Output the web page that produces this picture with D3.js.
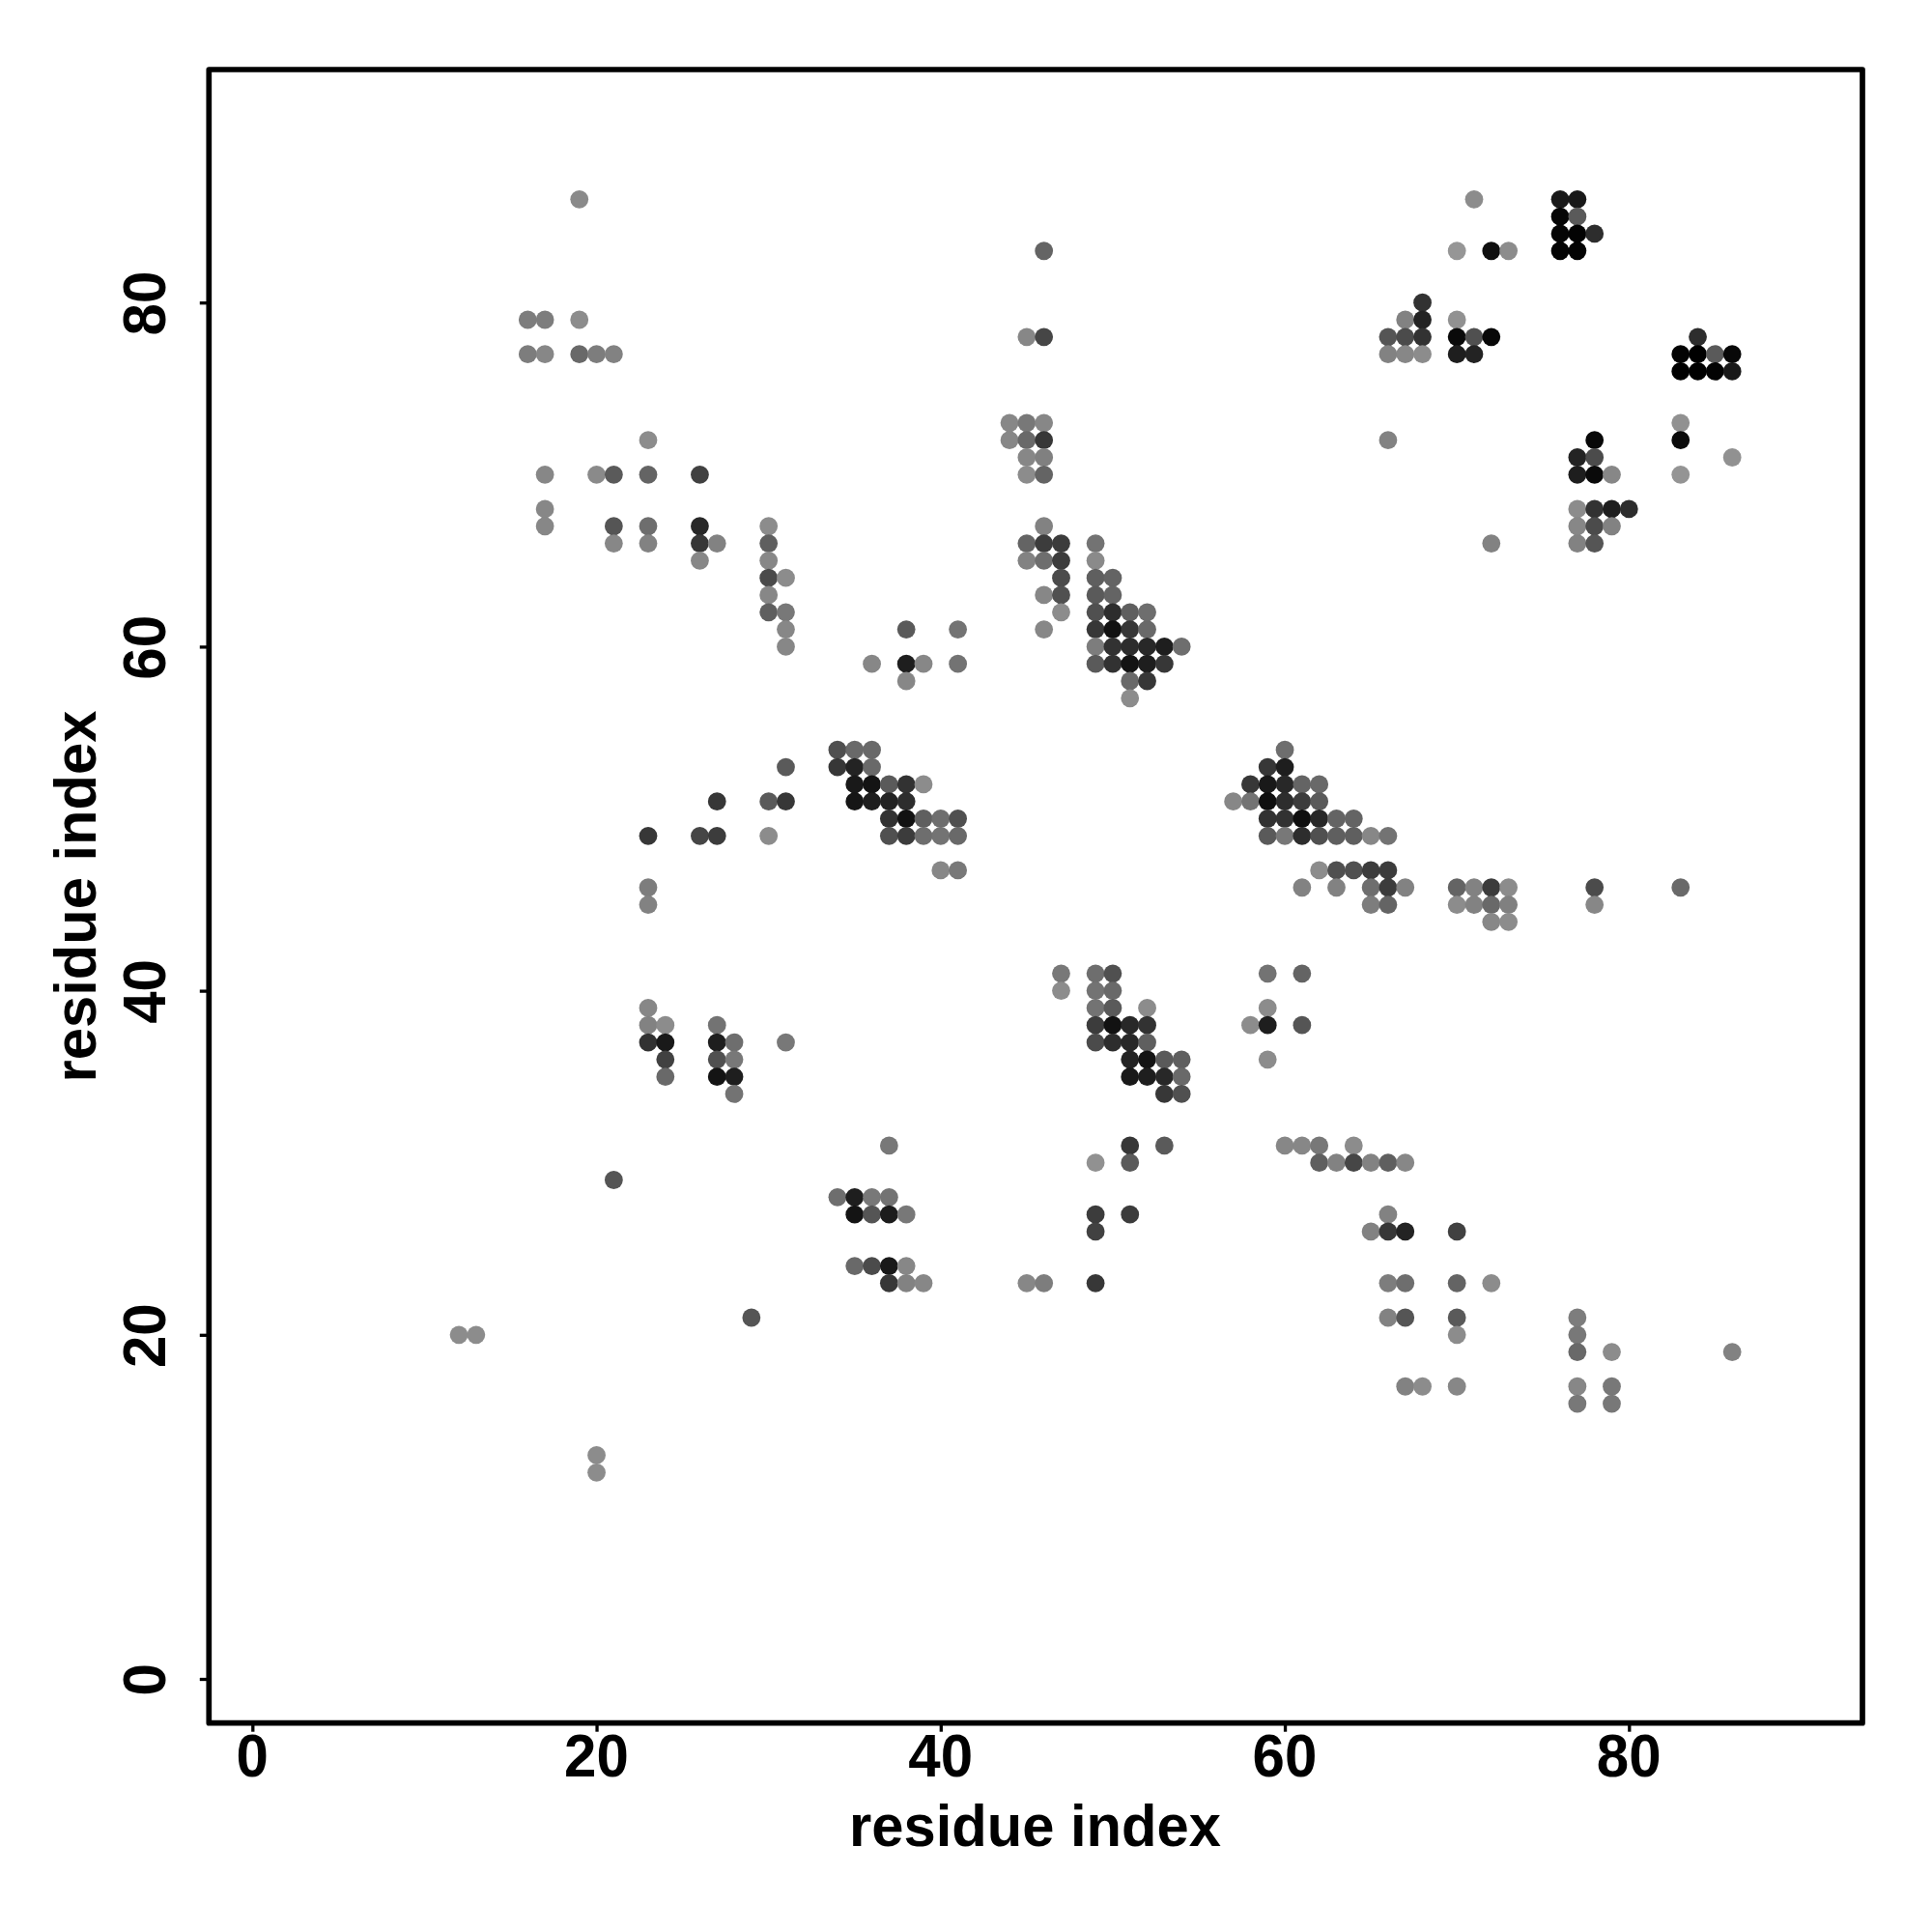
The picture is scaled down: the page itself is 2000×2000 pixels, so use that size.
<!DOCTYPE html>
<html>
<head>
<meta charset="utf-8">
<style>html,body{margin:0;padding:0;background:#fff}svg{display:block}</style>
<script src="https://cdn.jsdelivr.net/npm/d3@7"></script>
</head>
<body>
<script>
const rowJ = [86,85,84,83,80,79,78,77,76,73,72,71,70,68,67,66,65,64,63,62,61,60,59,58,57,54,53,52,51,50,49,47,46,45,44,41,40,39,38,37,36,35,34,31,30,29,28,27,26,24,23,21,20,19,17,16,13,12];
const residueI = [
[19,71,76,77],[76,77],[76,77,78],[46,70,72,73,76,77],[68],
[16,17,19,67,68,70],[45,46,66,67,68,70,71,72,84],
[16,17,19,20,21,66,67,68,70,71,83,84,85,86],[83,84,85,86],[44,45,46,83],
[23,44,45,46,66,78,83],[45,46,77,78,86],[17,20,21,23,26,45,46,77,78,79,83],
[17,77,78,79,80],[17,21,23,26,30,46,77,78,79],[21,23,26,27,30,45,46,47,49,72,77,78],
[26,30,45,46,47,49],[30,31,47,49,50],[30,46,47,49,50],[30,31,47,49,50,51,52],
[31,38,41,46,49,50,51,52],[31,49,50,51,52,53,54],[36,38,39,41,49,50,51,52,53],
[38,51,52],[51],[34,35,36,60],[31,34,35,36,59,60],[35,36,37,38,39,58,59,60,61,62],
[27,30,31,35,36,37,38,57,58,59,60,61,62],[37,38,39,40,41,59,60,61,62,63,64],
[23,26,27,30,37,38,39,40,41,59,60,61,62,63,64,65,66],[40,41,62,63,64,65,66],
[23,61,63,65,66,67,70,71,72,73,78,83],[23,65,66,70,71,72,73,78],[72,73],
[47,49,50,59,61],[47,49,50],[23,49,50,52,59],[23,24,27,49,50,51,52,58,59,61],
[23,24,27,28,31,49,50,51,52],[24,27,28,51,52,53,54,59],[24,27,28,51,52,53,54],[28,53,54],
[37,51,53,60,61,62,64],[49,51,62,63,64,65,66,67],[21],[34,35,36,37],[35,36,37,38,49,51,66],
[49,65,66,67,70],[35,36,37,38],[37,38,39,45,46,49,66,67,70,72],[29,66,67,70,77],
[12,13,70,77],[77,79,86],[67,68,70,77,79],[77,79],[20],[20]
];
const contactWeight = [
[12,10,125,125],[145,60],[145,147,105],[50,0,135,10,147,147],[100],
[25,25,10,20,115,5],[15,80,65,75,100,140,70,142,105],
[25,15,45,25,20,20,15,10,120,115,147,150,60,142],[150,150,147,125],[15,30,15,5],
[10,15,45,95,20,142,140],[15,22,115,75,5],[15,12,60,50,85,10,50,120,140,15,2],
[15,10,100,120,105],[15,65,40,110,10,20,15,75,20],[15,20,95,20,55,50,90,90,35,20,20,65],
[15,15,20,40,90,12],[75,10,75,55,50],[15,15,70,60,50],[55,30,10,70,105,55,40],
[15,60,35,15,95,132,95,45],[15,25,100,105,110,120,40],[15,120,15,35,60,100,130,120,95],
[15,45,95],[10],[70,45,45,40],[60,95,115,45,95,120],[125,130,60,100,10,95,125,110,50,45],
[95,60,95,128,120,115,105,15,35,135,105,90,60],[100,132,55,40,70,100,100,135,110,50,50],
[95,80,90,10,70,90,40,35,45,60,30,105,70,55,55,15,35],[15,30,10,70,70,90,90],
[25,20,20,40,90,20,50,20,90,10,75,45],[20,25,50,10,20,45,22,15],[15,10],
[30,40,70,35,50],[10,35,45],[15,35,60,10,10],[20,10,35,90,132,110,100,10,120,65],
[100,125,120,40,30,75,105,110,55],[85,70,30,115,130,60,55,10],[45,130,120,125,120,110,45],[35,95,70],
[30,95,60,15,15,30,10],[5,60,55,20,80,20,55,15],[65],[40,120,30,35],[130,65,122,30,90,90,20],
[85,20,95,115,85],[45,75,125,15],[95,20,15,15,25,95,25,40,50,10],[65,20,65,60,25],
[10,10,10,30],[45,10,20],[20,10,15,15,30],[30,30],[10],[10]
];
const tickValues = [0,20,40,60,80];
const xTitle = "residue index";
const yTitle = "residue index";

const contacts = rowJ.flatMap((j, r) =>
  residueI[r].map((i, k) => ({i, j, w: contactWeight[r][k]})));

const svg = d3.select("body").append("svg").attr("width",2000).attr("height",2000);
svg.append("rect").attr("width",2000).attr("height",2000).attr("fill","#fff");

const x = d3.scaleLinear().domain([0,80]).range([261.3,1686.3]);
const y = d3.scaleLinear().domain([0,80]).range([1738,313.2]);
const shade = d3.scaleLinear().domain([0,150]).range(["rgb(150,150,150)","rgb(0,0,0)"]);

const frame = {l:216.3, r:1928, t:72, b:1783.7};
const font = "'Liberation Sans', Arial, sans-serif";
const tallTicks = 1.06, tallTitle = 1.03;

svg.append("g").selectAll("circle").data(contacts).join("circle")
  .attr("cx", d => x(d.i)).attr("cy", d => y(d.j)).attr("r", 9.4)
  .attr("fill", d => shade(d.w));

const gx = svg.append("g").attr("transform",`translate(0,${frame.b})`)
  .call(d3.axisBottom(x).tickValues(tickValues).tickSize(9).tickPadding(2));
const gy = svg.append("g").attr("transform",`translate(${frame.l},0)`)
  .call(d3.axisLeft(y).tickValues(tickValues).tickSize(9.5).tickPadding(2));
[gx,gy].forEach(g => {
  g.select(".domain").remove();
  g.selectAll(".tick line").attr("stroke","#000").attr("stroke-width",3.3);
  g.selectAll(".tick text").attr("font-family",font).attr("font-weight","bold")
    .attr("font-size",60).attr("fill","#000");
});
gx.selectAll(".tick text")
  .attr("x",0).attr("y",0).attr("dy",null).attr("text-anchor","middle")
  .attr("transform",`translate(-0.6,${1839-frame.b}) scale(1,${tallTicks})`);
gy.selectAll(".tick text")
  .attr("x",0).attr("y",0).attr("dy",null).attr("text-anchor","middle")
  .attr("transform",`translate(${170.5-frame.l},0.4) rotate(-90) scale(1,${tallTicks})`);

svg.append("rect").attr("x",frame.l).attr("y",frame.t)
  .attr("width",frame.r-frame.l).attr("height",frame.b-frame.t)
  .attr("fill","none").attr("stroke","#000").attr("stroke-width",5.7)
  .attr("stroke-linejoin","round");

svg.append("text").attr("transform",`translate(1071.5,1911) scale(1,${tallTitle})`).attr("text-anchor","middle")
  .attr("font-family",font).attr("font-weight","bold").attr("font-size",59.7).text(xTitle);
svg.append("text").attr("transform",`translate(99,928) rotate(-90) scale(1,${tallTitle})`).attr("text-anchor","middle")
  .attr("font-family",font).attr("font-weight","bold").attr("font-size",59.7).text(yTitle);
</script>
</body>
</html>
